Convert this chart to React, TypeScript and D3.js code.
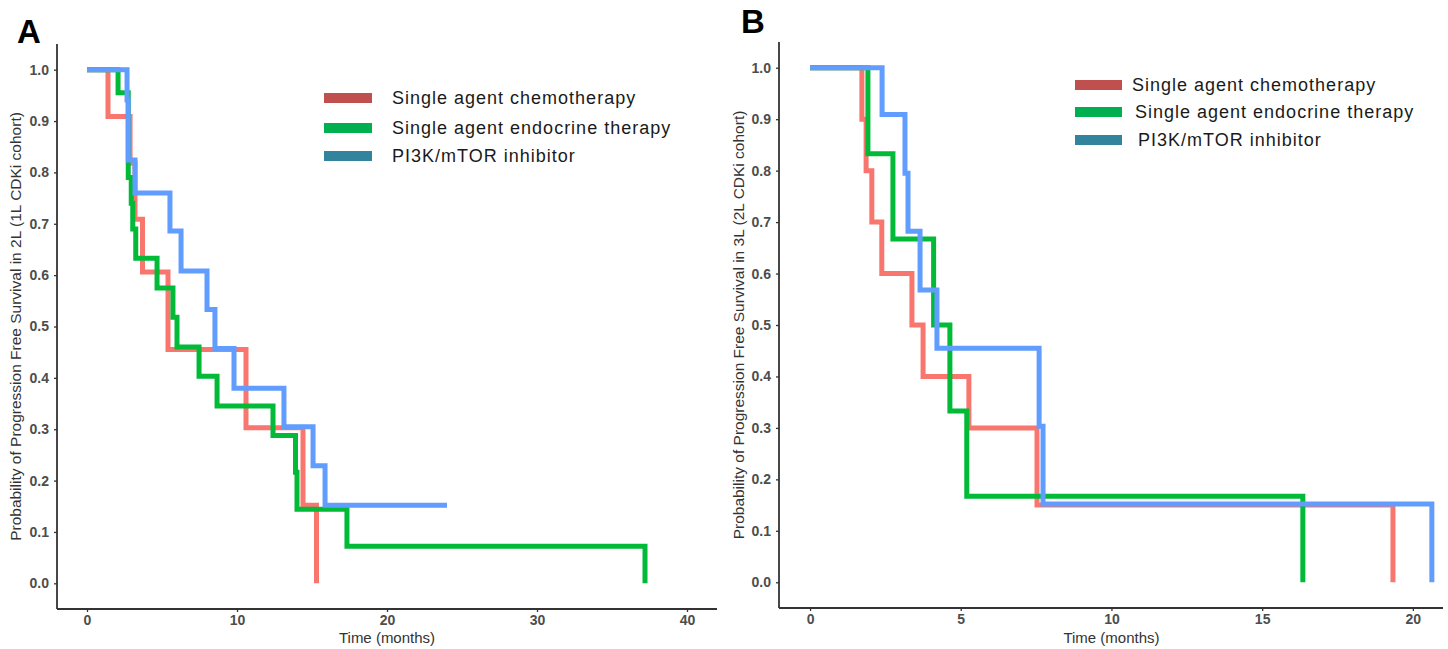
import React, { useRef, useEffect } from 'react';
import * as d3 from 'd3';

// Panel A: 2L PFS (1L CDKi cohort)
const aChemoTime = [0, 1.4, 2.87, 3.2, 3.7, 5.4, 10.6, 14.4, 15.3];
const aChemoSurv = [1, 0.909, 0.818, 0.709, 0.606, 0.455, 0.303, 0.152, 0];
const aEndoTime = [0, 2.07, 2.75, 2.95, 3.05, 3.25, 4.67, 5.73, 6.0, 7.47, 8.67, 12.4, 13.9, 14.0, 17.33, 37.2];
const aEndoSurv = [1, 0.955, 0.79, 0.74, 0.69, 0.633, 0.575, 0.518, 0.46, 0.403, 0.345, 0.288, 0.216, 0.144, 0.072, 0];
const aPi3kTime = [0, 2.67, 2.75, 3.2, 5.53, 6.27, 8.0, 8.53, 9.8, 13.13, 15.07, 15.87, 24.0];
const aPi3kSurv = [1, 0.941, 0.824, 0.76, 0.686, 0.608, 0.533, 0.457, 0.38, 0.305, 0.229, 0.152, 0.152];

// Panel B: 3L PFS (2L CDKi cohort)
const bChemoTime = [0, 1.72, 1.86, 2.05, 2.38, 3.38, 3.75, 5.27, 7.53, 19.34];
const bChemoSurv = [1, 0.9, 0.8, 0.7, 0.6, 0.5, 0.4, 0.3, 0.15, 0];
const bEndoTime = [0, 1.92, 2.75, 4.1, 4.64, 5.2, 16.35];
const bEndoSurv = [1, 0.833, 0.667, 0.5, 0.333, 0.167, 0];
const bPi3kTime = [0, 2.39, 3.15, 3.25, 3.65, 4.21, 7.6, 7.73, 20.63];
const bPi3kSurv = [1, 0.909, 0.795, 0.682, 0.568, 0.455, 0.303, 0.152, 0];

const legendLabels = ['Single agent chemotherapy', 'Single agent endocrine therapy', 'PI3K/mTOR inhibitor'];
const lineColors = ['#F8766D', '#00BA38', '#619CFF'];
const legendColors = ['#C0504D', '#00B050', '#31849B'];
const yTicks = [0, 0.1, 0.2, 0.3, 0.4, 0.5, 0.6, 0.7, 0.8, 0.9, 1.0];
const aXTicks = [0, 10, 20, 30, 40];
const bXTicks = [0, 5, 10, 15, 20];

const font = 'Liberation Sans, Arial, sans-serif';

const App = () => {
  const ref = useRef(null);

  useEffect(() => {
    const svg = d3.select(ref.current);
    svg.selectAll('*').remove();

    const panels = [
      {
        letter: 'A', letterX: 17, letterY: 43,
        xDomain: [-2, 42], xRange: [57, 717], yRange: [609, 44],
        xTicks: aXTicks,
        ytitle: 'Probability of Progression Free Survival in 2L (1L CDKi cohort)',
        titleX: 16,
        series: [[aChemoTime, aChemoSurv], [aEndoTime, aEndoSurv], [aPi3kTime, aPi3kSurv]],
        legend: { x: 324, w: 48, ys: [98, 128, 156], tx: [392, 392, 392] }
      },
      {
        letter: 'B', letterX: 741, letterY: 33,
        xDomain: [-1.03, 21.0], xRange: [779, 1443], yRange: [608, 42],
        xTicks: bXTicks,
        ytitle: 'Probability of Progression Free Survival in 3L (2L CDKi cohort)',
        titleX: 739,
        series: [[bChemoTime, bChemoSurv], [bEndoTime, bEndoSurv], [bPi3kTime, bPi3kSurv]],
        legend: { x: 1075, w: 47, ys: [85, 112, 140], tx: [1132, 1135, 1138] }
      }
    ];

    panels.forEach(p => {
      const x = d3.scaleLinear().domain(p.xDomain).range(p.xRange);
      const y = d3.scaleLinear().domain([-0.05, 1.05]).range(p.yRange);

      // survival curves
      const line = d3.line().x(d => x(d[0])).y(d => y(d[1])).curve(d3.curveStepAfter);
      p.series.forEach((s, i) => {
        const pts = s[0].map((t, k) => [t, s[1][k]]);
        svg.append('path')
          .attr('d', line(pts))
          .attr('fill', 'none')
          .attr('stroke', lineColors[i])
          .attr('stroke-width', 5);
      });

      // y axis
      const gy = svg.append('g')
        .attr('transform', `translate(${p.xRange[0]},0)`)
        .call(d3.axisLeft(y).tickValues(yTicks).tickFormat(d3.format('.1f')).tickSize(3).tickPadding(5));
      // x axis
      const gx = svg.append('g')
        .attr('transform', `translate(0,${p.yRange[0]})`)
        .call(d3.axisBottom(x).tickValues(p.xTicks).tickSize(3).tickPadding(3));
      [gx, gy].forEach(g => {
        g.select('.domain').attr('stroke', '#333').attr('stroke-width', 1.8);
        g.selectAll('.tick line').attr('stroke', '#333').attr('stroke-width', 1.3);
        g.selectAll('.tick text')
          .attr('fill', '#4D4D4D')
          .style('font-family', font)
          .style('font-size', '14px')
          .style('font-weight', 'bold');
      });
      // ggplot style: drop the outer ticks on the domain path
      gy.select('.domain').attr('d', `M0,${p.yRange[0]}V${p.yRange[1]}`);
      gx.select('.domain').attr('d', `M${p.xRange[0]},0H${p.xRange[1]}`);

      // axis titles
      svg.append('text')
        .attr('x', (x(p.xTicks[0]) + x(p.xTicks[p.xTicks.length - 1])) / 2)
        .attr('y', 643)
        .attr('text-anchor', 'middle')
        .style('font-family', font)
        .style('font-size', '15px')
        .attr('fill', '#333')
        .text('Time (months)');
      svg.append('text')
        .attr('transform', `translate(${p.titleX},${(y(0) + y(1)) / 2}) rotate(-90)`)
        .attr('text-anchor', 'middle')
        .attr('dy', '0.35em')
        .style('font-family', font)
        .style('font-size', '15.5px')
        .attr('fill', '#333')
        .text(p.ytitle);

      // panel letter
      svg.append('text')
        .attr('x', p.letterX)
        .attr('y', p.letterY)
        .style('font-family', font)
        .style('font-size', '33px')
        .style('font-weight', 'bold')
        .attr('fill', '#000')
        .text(p.letter);

      // legend
      legendLabels.forEach((lab, i) => {
        svg.append('rect')
          .attr('x', p.legend.x)
          .attr('y', p.legend.ys[i] - 5)
          .attr('width', p.legend.w)
          .attr('height', 10)
          .attr('fill', legendColors[i]);
        svg.append('text')
          .attr('x', p.legend.tx[i])
          .attr('y', p.legend.ys[i])
          .attr('dy', '0.35em')
          .style('font-family', font)
          .style('font-size', '18px')
          .style('letter-spacing', '1px')
          .attr('fill', '#1a1a1a')
          .text(lab);
      });
    });
  }, []);

  return (
    <svg
      ref={ref}
      width={1448}
      height={649}
      style={{ position: 'absolute', left: 0, top: 0, background: '#fff' }}
    />
  );
};

export default App;
